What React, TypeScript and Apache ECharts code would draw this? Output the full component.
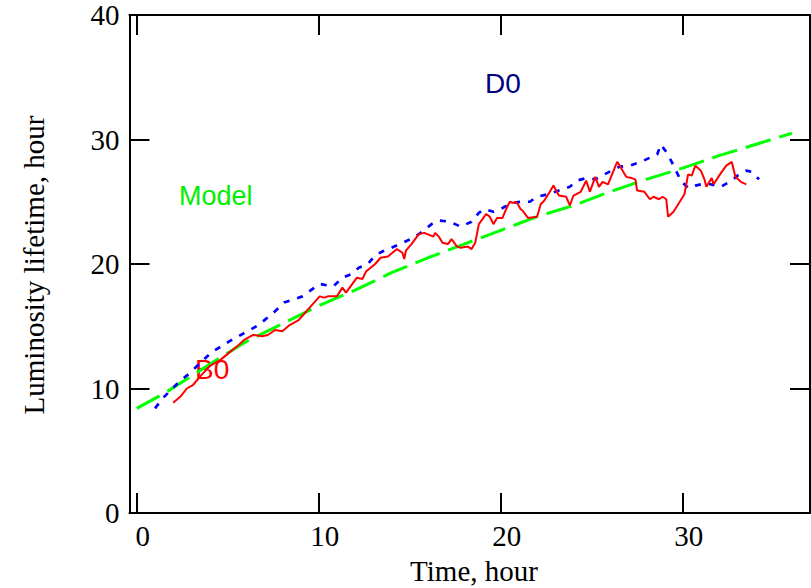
import React, { useEffect, useRef } from "react";
import * as echarts from "echarts";

const xTicks = [0, 10, 20, 30];
const yTicks = [0, 10, 20, 30, 40];

const modelTime = [0, 1.5, 3, 4.5, 6, 8, 10, 12, 14, 16, 18, 20, 22, 24, 26, 28, 30, 32, 34, 36];
const modelLifetime = [8.4, 9.6, 11.0, 12.4, 13.75, 15.2, 16.65, 17.9, 19.3, 20.5, 21.6, 22.7, 23.8, 24.7, 25.8, 26.8, 27.7, 28.7, 29.6, 30.5];

const d0Time = [1.0, 1.45, 2.3, 2.8, 4.1, 5.1, 6.7, 7.6, 8.1, 9.1, 10.05, 10.8, 11.3, 11.8, 12.2, 12.7, 13.1, 13.5, 14.0, 14.6, 15.2, 15.7, 16.2, 16.6, 17.2, 17.8, 18.4, 18.8, 19.1, 19.6, 20.1, 20.6, 21.1, 21.6, 22.0, 22.6, 23.2, 23.8, 24.2, 24.7, 25.2, 25.7, 26.5, 27.1, 27.7, 28.3, 28.6, 28.8, 29.1, 29.4, 29.9, 30.3, 30.7, 31.3, 31.8, 32.1, 32.7, 33.1, 33.5, 33.8, 34.2];
const d0Lifetime = [8.4, 9.25, 10.5, 11.1, 12.9, 13.8, 15.1, 16.2, 16.9, 17.4, 18.4, 18.2, 18.9, 19.2, 19.7, 20.0, 20.7, 21.0, 21.3, 21.7, 22.1, 22.6, 23.2, 23.5, 23.4, 23.0, 23.4, 24.1, 24.4, 24.2, 24.5, 24.9, 25.0, 25.0, 25.4, 25.6, 25.9, 26.2, 26.7, 26.9, 26.8, 27.2, 27.8, 27.9, 28.2, 28.6, 28.8, 29.6, 29.0, 28.2, 26.7, 26.1, 26.3, 26.5, 26.3, 26.2, 26.7, 27.2, 27.5, 27.4, 26.8];

const b0Time = [2.0, 2.4, 2.75, 3.1, 3.5, 4.0, 4.6, 5.1, 5.6, 5.9, 6.4, 6.9, 7.2, 7.6, 8.0, 8.4, 8.9, 9.5, 10.05, 10.3, 10.5, 11.0, 11.3, 11.5, 11.9, 12.1, 12.4, 12.6, 13.1, 13.4, 13.8, 14.3, 14.6, 14.7, 14.8, 15.1, 15.5, 15.8, 16.3, 16.4, 16.6, 16.8, 17.1, 17.3, 17.6, 17.8, 18.2, 18.4, 18.6, 18.8, 19.2, 19.4, 19.6, 19.8, 20.1, 20.3, 20.5, 20.7, 20.8, 20.9, 21.1, 21.2, 21.5, 22.0, 22.2, 22.4, 22.7, 22.9, 23.2, 23.6, 23.8, 24.0, 24.4, 24.7, 24.9, 25.2, 25.4, 25.6, 25.9, 26.4, 26.5, 26.9, 27.2, 27.4, 27.5, 27.9, 28.2, 28.4, 28.7, 28.9, 29.1, 29.2, 29.5, 29.8, 30.1, 30.3, 30.5, 30.7, 31.0, 31.2, 31.3, 31.6, 31.7, 32.1, 32.4, 32.7, 32.9, 33.2, 33.5];
const b0Lifetime = [8.85, 9.35, 10.0, 10.3, 11.0, 11.8, 12.3, 12.9, 13.5, 13.9, 14.3, 14.2, 14.3, 14.7, 14.6, 15.1, 15.5, 16.5, 17.4, 17.3, 17.4, 17.4, 18.1, 17.7, 18.5, 18.9, 18.8, 19.4, 20.0, 20.5, 20.6, 21.2, 20.9, 20.4, 21.1, 21.6, 22.4, 22.5, 22.2, 22.5, 22.2, 21.7, 21.6, 22.0, 21.4, 21.3, 21.4, 21.2, 21.7, 23.2, 24.0, 23.8, 23.2, 23.7, 23.7, 24.4, 25.0, 24.9, 25.0, 24.9, 24.4, 24.3, 23.7, 23.8, 24.8, 25.1, 25.8, 26.3, 25.5, 25.4, 24.7, 25.5, 25.8, 26.7, 25.8, 27.0, 26.2, 26.6, 26.4, 28.2, 28.0, 27.0, 26.9, 26.8, 25.9, 25.8, 25.2, 25.4, 25.2, 25.4, 25.2, 23.8, 24.2, 24.9, 25.6, 27.2, 27.1, 27.9, 27.5, 26.8, 26.2, 26.9, 26.4, 27.3, 27.9, 28.2, 27.0, 26.6, 26.4];

const pair = (xs: number[], ys: number[]) => xs.map((x, i) => [x, ys[i]]);

const SERIF = '"Liberation Serif", "Times New Roman", serif';
const SANS = '"Liberation Sans", Arial, sans-serif';

export default function App() {
  const ref = useRef<HTMLDivElement>(null);
  useEffect(() => {
    document.body.style.margin = "0";
    const chart = echarts.init(ref.current!, null, { renderer: "svg" });
    const line = { color: "#000", width: 2 };
    const xCommon = {
      type: "value" as const,
      min: -0.4,
      max: 37,
      splitLine: { show: false },
      axisLine: { show: true, onZero: false, lineStyle: line },
      axisTick: { show: true, inside: true, length: 20, customValues: xTicks, lineStyle: line },
    };
    const yCommon = {
      type: "value" as const,
      min: 0,
      max: 40,
      interval: 10,
      splitLine: { show: false },
      axisLine: { show: true, onZero: false, lineStyle: line },
      axisTick: { show: true, inside: true, length: 20, customValues: yTicks, lineStyle: line },
    };
    chart.setOption({
      animation: false,
      backgroundColor: "#fff",
      grid: { left: 129.5, right: 1, top: 15, bottom: 75, containLabel: false },
      xAxis: [
        {
          ...xCommon,
          position: "bottom",
          axisLabel: {
            customValues: xTicks,
            fontSize: 29,
            fontFamily: SERIF,
            color: "#000",
            margin: 8,
            padding: [0, 0, 0, 12],
          },
        },
        { ...xCommon, position: "top", axisLabel: { show: false } },
      ],
      yAxis: [
        {
          ...yCommon,
          position: "left",
          axisLabel: {
            customValues: yTicks,
            fontSize: 29,
            fontFamily: SERIF,
            color: "#000",
            margin: 10,
            padding: [7, 0, 0, 0],
          },
        },
        { ...yCommon, position: "right", axisLabel: { show: false } },
      ],
      series: [
        {
          name: "Model",
          type: "line",
          data: pair(modelTime, modelLifetime),
          showSymbol: false,
          symbol: "none",
          lineStyle: { color: "#00ff00", width: 3, type: [26, 9] },
        },
        {
          name: "D0",
          type: "line",
          data: pair(d0Time, d0Lifetime),
          showSymbol: false,
          symbol: "none",
          lineStyle: { color: "#0000ff", width: 2.7, type: [6, 8] },
        },
        {
          name: "B0",
          type: "line",
          data: pair(b0Time, b0Lifetime),
          showSymbol: false,
          symbol: "none",
          lineStyle: { color: "#ff0000", width: 2 },
        },
      ],
      graphic: [
        {
          type: "text",
          x: 503,
          y: 83,
          style: { text: "D0", font: `28px ${SANS}`, fill: "#000080", align: "center", verticalAlign: "middle" },
        },
        {
          type: "text",
          x: 179,
          y: 196,
          style: { text: "Model", font: `27px ${SANS}`, fill: "#00ee00", align: "left", verticalAlign: "middle" },
        },
        {
          type: "text",
          x: 195,
          y: 369,
          style: { text: "B0", font: `28px ${SANS}`, fill: "#ff0000", align: "left", verticalAlign: "middle" },
        },
        {
          type: "text",
          x: 474,
          y: 571,
          style: { text: "Time, hour", font: `29px ${SERIF}`, fill: "#000", align: "center", verticalAlign: "middle" },
        },
        {
          type: "text",
          x: 34,
          y: 265,
          rotation: Math.PI / 2,
          style: {
            text: "Luminosity lifetime, hour",
            font: `29px ${SERIF}`,
            fill: "#000",
            align: "center",
            verticalAlign: "middle",
          },
        },
      ],
    });
    return () => chart.dispose();
  }, []);
  return <div ref={ref} style={{ width: 811, height: 588, position: "absolute", left: 0, top: 0 }} />;
}
